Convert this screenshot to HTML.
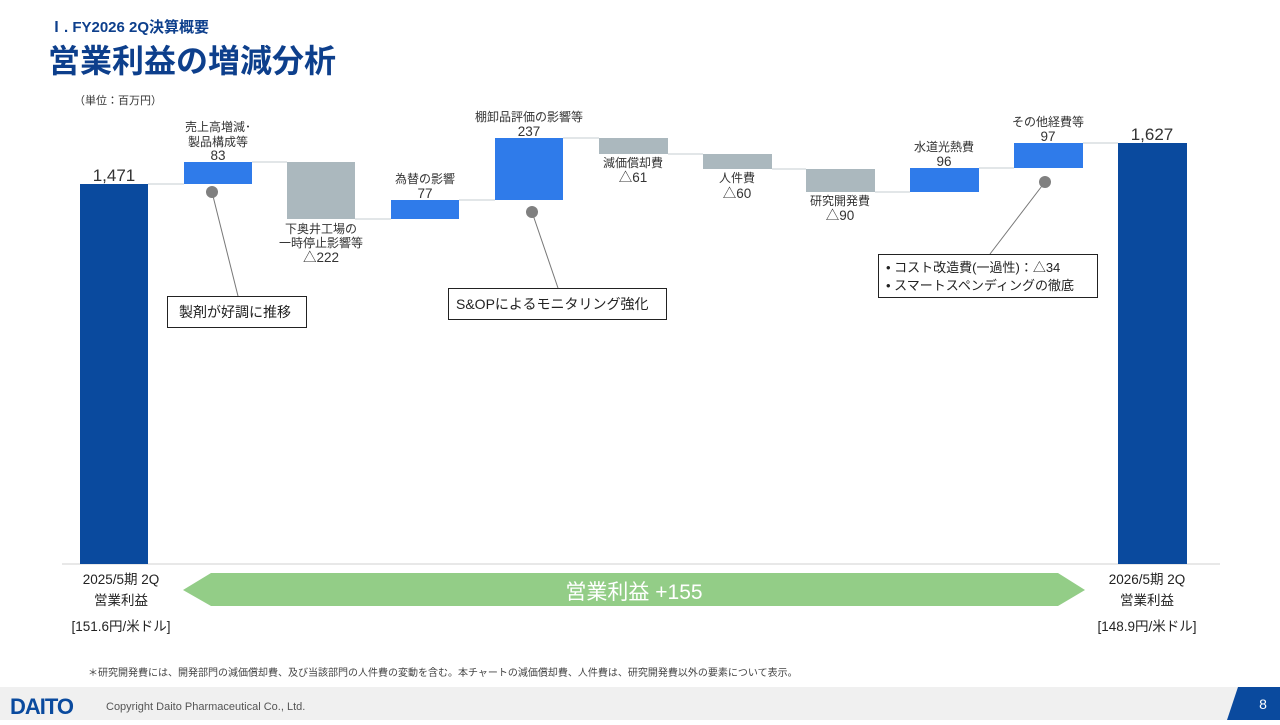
<!DOCTYPE html>
<html><head><meta charset="utf-8"><style>
body{margin:0;width:1280px;height:720px;overflow:hidden;background:#fff;font-family:"Liberation Sans","Noto Sans CJK JP",sans-serif;}
</style></head><body>
<svg width="1280" height="720" viewBox="0 0 1280 720" xmlns="http://www.w3.org/2000/svg" font-family="Liberation Sans, Noto Sans CJK JP, sans-serif">
<text x="49" y="32" font-size="15" font-weight="bold" fill="#0d3f8c">Ⅰ. FY2026 2Q決算概要</text>
<text x="48" y="72" font-size="32" font-weight="bold" fill="#0d3f8c">営業利益の増減分析</text>
<text x="74" y="104" font-size="11" fill="#333">（単位：百万円）</text>
<line x1="62" y1="564" x2="1220" y2="564" stroke="#d0d0d0" stroke-width="1"/>
<g stroke="#d9dde0" stroke-width="1.5">
<line x1="148" y1="184" x2="184" y2="184"/>
<line x1="252" y1="162" x2="287" y2="162"/>
<line x1="355" y1="219" x2="391" y2="219"/>
<line x1="459" y1="200" x2="495" y2="200"/>
<line x1="563" y1="138" x2="599" y2="138"/>
<line x1="668" y1="154" x2="703" y2="154"/>
<line x1="772" y1="169" x2="806" y2="169"/>
<line x1="875" y1="192" x2="910" y2="192"/>
<line x1="979" y1="168" x2="1014" y2="168"/>
<line x1="1083" y1="143" x2="1118" y2="143"/>
</g>
<rect x="80" y="184" width="68" height="380" fill="#0a4a9e"/>
<rect x="184" y="162" width="68" height="22" fill="#2f7bea"/>
<rect x="287" y="162" width="68" height="57" fill="#abb8be"/>
<rect x="391" y="200" width="68" height="19" fill="#2f7bea"/>
<rect x="495" y="138" width="68" height="62" fill="#2f7bea"/>
<rect x="599" y="138" width="69" height="16" fill="#abb8be"/>
<rect x="703" y="154" width="69" height="15" fill="#abb8be"/>
<rect x="806" y="169" width="69" height="23" fill="#abb8be"/>
<rect x="910" y="168" width="69" height="24" fill="#2f7bea"/>
<rect x="1014" y="143" width="69" height="25" fill="#2f7bea"/>
<rect x="1118" y="143" width="69" height="421" fill="#0a4a9e"/>
<g font-size="12" fill="#333" text-anchor="middle">
<text x="114" y="181" font-size="17">1,471</text>
<text x="218" y="131">売上高増減･</text>
<text x="218" y="146">製品構成等</text>
<text x="218" y="160" font-size="13.5">83</text>
<text x="321" y="233">下奥井工場の</text>
<text x="321" y="247">一時停止影響等</text>
<text x="321" y="262" font-size="13.5">△222</text>
<text x="425" y="183">為替の影響</text>
<text x="425" y="198" font-size="13.5">77</text>
<text x="529" y="121">棚卸品評価の影響等</text>
<text x="529" y="136" font-size="13.5">237</text>
<text x="633" y="167">減価償却費</text>
<text x="633" y="182" font-size="13.5">△61</text>
<text x="737" y="182">人件費</text>
<text x="737" y="198" font-size="13.5">△60</text>
<text x="840" y="205">研究開発費</text>
<text x="840" y="220" font-size="13.5">△90</text>
<text x="944" y="151">水道光熱費</text>
<text x="944" y="166" font-size="13.5">96</text>
<text x="1048" y="126">その他経費等</text>
<text x="1048" y="141" font-size="13.5">97</text>
<text x="1152" y="140" font-size="17">1,627</text>
</g>
<g stroke="#777" stroke-width="1" fill="none">
<line x1="212" y1="192" x2="238" y2="296"/>
<line x1="532" y1="212" x2="558" y2="288"/>
<line x1="1045" y1="182" x2="990" y2="254"/>
</g>
<circle cx="212" cy="192" r="6" fill="#808080"/>
<circle cx="532" cy="212" r="6" fill="#808080"/>
<circle cx="1045" cy="182" r="6" fill="#808080"/>
<rect x="167.5" y="296.5" width="139" height="31" fill="#fff" stroke="#222"/>
<text x="179" y="317" font-size="14" fill="#222">製剤が好調に推移</text>
<rect x="448.5" y="288.5" width="218" height="31" fill="#fff" stroke="#222"/>
<text x="456" y="309" font-size="14" fill="#222">S&amp;OPによるモニタリング強化</text>
<rect x="878.5" y="254.5" width="219" height="43" fill="#fff" stroke="#222"/>
<text x="886" y="272" font-size="13" fill="#222">• コスト改造費(一過性)：△34</text>
<text x="886" y="290" font-size="13" fill="#222">• スマートスペンディングの徹底</text>
<polygon points="183,590 211,573 1058,573 1085,590 1058,606 211,606" fill="#93cd87"/>
<text x="634" y="599" font-size="21" fill="#fff" text-anchor="middle">営業利益 +155</text>
<g font-size="13.5" fill="#222" text-anchor="middle">
<text x="121" y="584">2025/5期 2Q</text>
<text x="121" y="605">営業利益</text>
<text x="121" y="631">[151.6円/米ドル]</text>
<text x="1147" y="584">2026/5期 2Q</text>
<text x="1147" y="605">営業利益</text>
<text x="1147" y="631">[148.9円/米ドル]</text>
</g>
<text x="88" y="676" font-size="10" fill="#444">＊研究開発費には、開発部門の減価償却費、及び当該部門の人件費の変動を含む。本チャートの減価償却費、人件費は、研究開発費以外の要素について表示。</text>
<rect x="0" y="687" width="1280" height="33" fill="#f0f0f0"/>
<polygon points="1238,687 1280,687 1280,720 1227,720" fill="#0a4a9e"/>
<text x="1263" y="709" font-size="14" fill="#fff" text-anchor="middle">8</text>
<text x="10" y="714" font-size="22" font-weight="bold" fill="#0a4a9e" letter-spacing="-1">DAITO</text>
<text x="106" y="710" font-size="11" fill="#555">Copyright  Daito Pharmaceutical Co., Ltd.</text>
</svg>
</body></html>
